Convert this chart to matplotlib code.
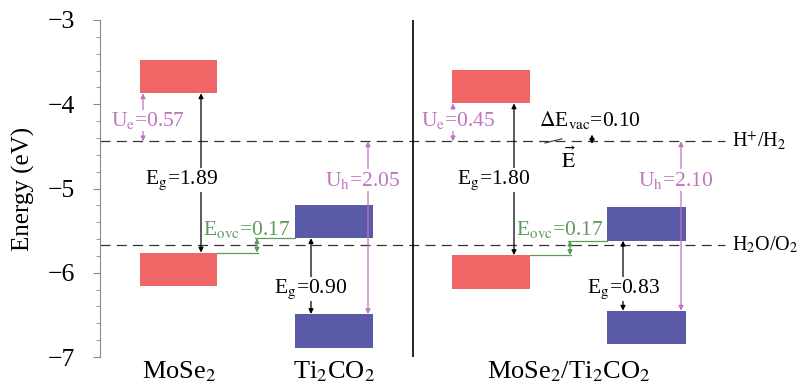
import matplotlib
matplotlib.use("Agg")
import matplotlib.pyplot as plt
from matplotlib.ticker import MultipleLocator

plt.rcParams['font.family'] = ['Liberation Serif', 'DejaVu Serif']
plt.rcParams['mathtext.fontset'] = 'stix'

# band edges (eV)
cbm_mose2 = [-3.87, -3.99]     # isolated, heterostructure
vbm_mose2 = [-5.76, -5.79]
cbm_ti2co2 = [-5.59, -5.62]
vbm_ti2co2 = [-6.49, -6.45]
h_level = -4.44                # H+/H2
o_level = -5.67                # H2O/O2

eg_mose2 = ["1.89", "1.80"]
eg_ti2co2 = ["0.90", "0.83"]
ue_vals = ["0.57", "0.45"]
uh_vals = ["2.05", "2.10"]
eovc_vals = ["0.17", "0.17"]
dE_vac = "0.10"
names = ["MoSe$_2$", "Ti$_2$CO$_2$", "MoSe$_2$/Ti$_2$CO$_2$"]

thick = 0.4
red = '#f06666'
blue = '#5a5aa8'
pink = '#bf74bf'
green = '#5a9a5a'
fs = 15.5

fig = plt.figure(figsize=(8.02, 3.87), dpi=100)
ax = fig.add_axes([100/802, 1 - 357/387, 702/802, 337/387])
ax.set_xlim(100, 802)
ax.set_ylim(-7, -3)

# horizontal layout of the two panels (pixel-like x units)
mo_x = [(140, 217), (452, 530)]
ti_x = [(295, 373), (607, 686)]

def box(x0, x1, edge, up, color):
    h = thick if up else -thick
    ax.bar((x0 + x1) / 2, h, width=x1 - x0, bottom=edge, color=color, zorder=3)

def arrow(x, y1, y2, color):
    ax.annotate('', xy=(x, y2), xytext=(x, y1),
                arrowprops=dict(arrowstyle='<|-|>', color=color, lw=0.9,
                                shrinkA=0, shrinkB=0, mutation_scale=7), zorder=4)

def label(x, y, s, color):
    ax.text(x, y, s, ha='center', va='center', color=color, fontsize=fs, zorder=5,
            bbox=dict(facecolor='white', edgecolor='none', pad=0.2))

# reference levels
for lev in (h_level, o_level):
    ax.plot([100, 725], [lev, lev], ls=(0, (8, 5)), color='#333333', lw=0.9, zorder=1)
ax.text(732, h_level, "H$^{+}$/H$_2$", va='center', ha='left', fontsize=14.5)
ax.text(732, o_level, "H$_2$O/O$_2$", va='center', ha='left', fontsize=14.5)

# divider
ax.plot([413, 413], [-7, -3], color='black', lw=1.2, zorder=2)

for i in range(2):
    (m0, m1), (t0, t1) = mo_x[i], ti_x[i]
    box(m0, m1, cbm_mose2[i], True, red)
    box(m0, m1, vbm_mose2[i], False, red)
    box(t0, t1, cbm_ti2co2[i], True, blue)
    box(t0, t1, vbm_ti2co2[i], False, blue)

    # band gaps
    xg = m1 - 16
    arrow(xg, cbm_mose2[i], vbm_mose2[i], 'black')
    label(xg - 20, -4.90, "E$_\\mathrm{g}$=" + eg_mose2[i], 'black')
    xt = t0 + 16
    arrow(xt, cbm_ti2co2[i], vbm_ti2co2[i], 'black')
    label(xt, -6.19, "E$_\\mathrm{g}$=" + eg_ti2co2[i], 'black')

    # redox potentials
    xu = m0 + 3 if i == 0 else m0 + 1
    arrow(xu, cbm_mose2[i], h_level, pink)
    label(xu + 5, -4.19, "U$_\\mathrm{e}$=" + ue_vals[i], pink)
    xh = t1 - 5
    arrow(xh, h_level, vbm_ti2co2[i], pink)
    label(xh - 5, -4.90, "U$_\\mathrm{h}$=" + uh_vals[i], pink)

    # band offset
    xo = m1 + 40
    ax.plot([m1, xo + 1], [vbm_mose2[i], vbm_mose2[i]], color=green, lw=0.9, zorder=2)
    ax.plot([xo - 2, t0], [cbm_ti2co2[i], cbm_ti2co2[i]], color=green, lw=0.9, zorder=2)
    arrow(xo, cbm_ti2co2[i], vbm_mose2[i], green)
    ax.text(xo - 10, -5.49, "E$_\\mathrm{ovc}$=" + eovc_vals[i], ha='center', va='center',
            color=green, fontsize=fs, zorder=5)

# vacuum level shift and field
ax.text(590, -4.19, "$\\Delta$E$_\\mathrm{vac}$=" + dE_vac, ha='center', va='center', fontsize=fs)
arrow(592, -4.36, -4.47, 'black')
ax.plot([545, 562], [-4.46, -4.41], color='#333333', lw=0.8)
ax.text(568, -4.67, "$\\vec{\\mathrm{E}}$", ha='center', va='center', fontsize=fs)

# material names
for x, s in zip([179, 334, 569], names):
    ax.text(x, -7.18, s, ha='center', va='center', fontsize=19, clip_on=False)

# axes styling
for side in ('top', 'right', 'bottom'):
    ax.spines[side].set_visible(False)
ax.spines['left'].set_color('#888888')
ax.set_xticks([])
ax.set_yticks([-7, -6, -5, -4, -3])
ax.set_yticklabels(['\u22127', '\u22126', '\u22125', '\u22124', '\u22123'])
ax.yaxis.set_minor_locator(MultipleLocator(0.2))
ax.tick_params(axis='y', which='major', direction='out', length=5, color='#888888',
               labelsize=18.5, pad=13)
ax.tick_params(axis='y', which='minor', direction='out', length=3, color='#888888')
ax.set_ylabel("Energy (eV)", fontsize=18)
ax.yaxis.set_label_coords(-0.093, 0.5)

fig.savefig('out.png', dpi=100)
